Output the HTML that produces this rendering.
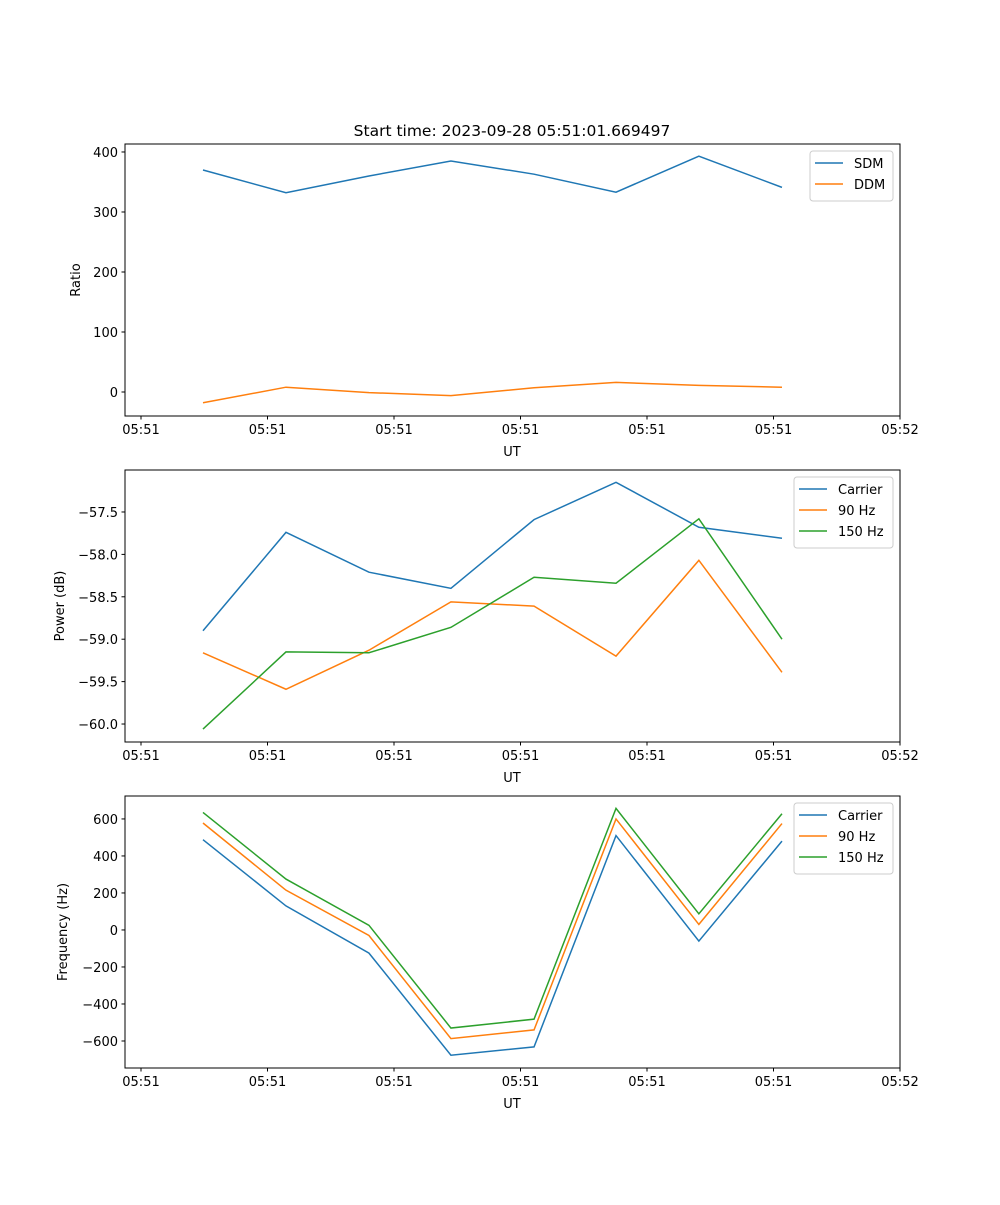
<!DOCTYPE html>
<html><head><meta charset="utf-8"><style>
body{margin:0;background:#fff}
svg text{font-family:"DejaVu Sans","Liberation Sans",sans-serif;font-size:13px;fill:#000}
</style></head><body>
<svg id="fig" width="1000" height="1200" xmlns="http://www.w3.org/2000/svg">
<rect width="1000" height="1200" fill="#fff"/>
<text x="512" y="136" text-anchor="middle" style="font-size:15.5px">Start time: 2023-09-28 05:51:01.669497</text>
</svg>
<script>
const times=[0.49,1.146,1.802,2.45,3.107,3.755,4.41,5.067];
const xTicks=[0,1,2,3,4,5,6];
const xTickLabels=["05:51","05:51","05:51","05:51","05:51","05:51","05:52"];
const sdm=[370,332,360,385,363,333,393,341];
const ddm=[-18,8,-1,-6,7,16,11,8];
const powCarrier=[-58.90,-57.74,-58.21,-58.40,-57.59,-57.15,-57.68,-57.81];
const pow90=[-59.16,-59.59,-59.13,-58.56,-58.61,-59.20,-58.07,-59.39];
const pow150=[-60.06,-59.15,-59.16,-58.86,-58.27,-58.34,-57.58,-59.00];
const freqCarrier=[488,130,-125,-677,-632,510,-60,480];
const freq90=[578,215,-30,-587,-540,600,30,575];
const freq150=[635,275,25,-530,-482,657,87,628];
const ticks1=[0,100,200,300,400];
const ticks2=[-60,-59.5,-59,-58.5,-58,-57.5];
const ticks3=[-600,-400,-200,0,200,400,600];

const NS="http://www.w3.org/2000/svg";
const svg=document.getElementById('fig');
function el(t,a,p){const e=document.createElementNS(NS,t);for(const k in a)e.setAttribute(k,a[k]);(p||svg).appendChild(e);return e;}
const L=125,R=900,X0=-0.1265,X1=6;
const xs=v=>L+(v-X0)/(X1-X0)*(R-L);

function panel(name,top,bot,y0,y1,yt,yfmt,ylab,series,leg){
  const g=el('g',{});
  
  
  const ys=v=>bot-(v-y0)/(y1-y0)*(bot-top);
  series.forEach(s=>{
    const p=el('polyline',{points:s.d.map((v,i)=>xs(times[i])+','+ys(v)).join(' '),fill:'none',stroke:s.c,'stroke-width':1.5},g);
    
    
  });
  const fr=el('rect',{x:L,y:top,width:R-L,height:bot-top,fill:'none',stroke:'#000','stroke-width':1},g);
  
  
  xTicks.forEach((t,i)=>{
    const x=xs(t);
    el('line',{x1:x,x2:x,y1:bot,y2:bot+3.5,stroke:'#000'},g);
    const tx=el('text',{x:x,y:bot+18,'text-anchor':'middle'},g);tx.textContent=xTickLabels[i];
    
    
  });
  const xl=el('text',{x:512,y:bot+40,'text-anchor':'middle'},g);xl.textContent='UT';
  
  
  yt.forEach(t=>{
    const y=ys(t);
    el('line',{x1:L-3.5,x2:L,y1:y,y2:y,stroke:'#000'},g);
    const tx=el('text',{x:L-7,y:y+5,'text-anchor':'end'},g);tx.textContent=yfmt(t);
    
    
  });
  const yl=el('text',{x:0,y:0,'text-anchor':'middle',transform:`translate(${leg.yx},${(top+bot)/2}) rotate(-90)`},g);yl.textContent=ylab;
  
  
  const lg=el('g',{},g);
  
  
  const h=series.length*21+8;
  el('rect',{x:leg.x,y:top+7,width:R-7-leg.x,height:h,rx:3,fill:'#fff','fill-opacity':0.8,stroke:'#ccc'},lg);
  series.forEach((s,i)=>{
    const y=top+19+i*21;
    el('line',{x1:leg.x+5,x2:leg.x+33,y1:y,y2:y,stroke:s.c,'stroke-width':1.5},lg);
    const tx=el('text',{x:leg.x+44,y:y+5},lg);tx.textContent=s.n;
    
    
  });
}
const m=v=>v<0?'\u2212'+Math.abs(v):String(v);
const m1=v=>(v<0?'\u2212':'')+Math.abs(v).toFixed(1);
panel('ratio',144,416,-40,413.3,ticks1,m,'Ratio',
 [{id:'sdm',n:'SDM',c:'#1f77b4',d:sdm},{id:'ddm',n:'DDM',c:'#ff7f0e',d:ddm}],{x:810,yx:80});
panel('power',470,742,-60.212,-57.005,ticks2,m1,'Power (dB)',
 [{id:'carrier',n:'Carrier',c:'#1f77b4',d:powCarrier},{id:'90hz',n:'90 Hz',c:'#ff7f0e',d:pow90},{id:'150hz',n:'150 Hz',c:'#2ca02c',d:pow150}],{x:794,yx:64});
panel('frequency',796,1068,-746,724,ticks3,m,'Frequency (Hz)',
 [{id:'carrier',n:'Carrier',c:'#1f77b4',d:freqCarrier},{id:'90hz',n:'90 Hz',c:'#ff7f0e',d:freq90},{id:'150hz',n:'150 Hz',c:'#2ca02c',d:freq150}],{x:794,yx:67});
</script>
</body></html>
